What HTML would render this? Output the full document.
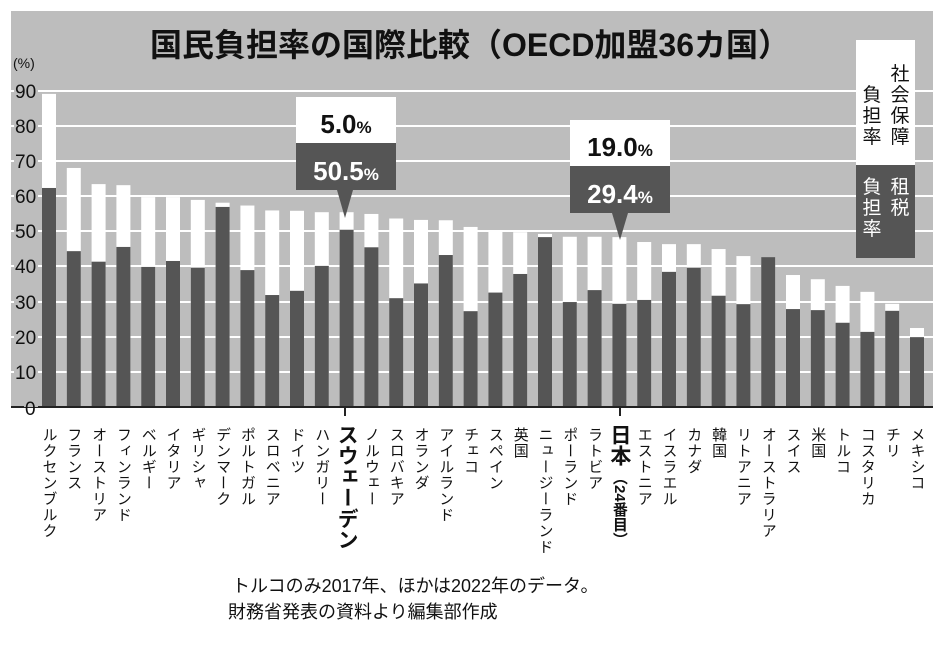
<!DOCTYPE html>
<html><head><meta charset="utf-8"><style>
body{margin:0;background:#fff;}
svg{display:block;font-family:"Liberation Sans","Noto Sans CJK JP",sans-serif;}
</style></head><body>
<svg width="952" height="647" viewBox="0 0 952 647" xmlns="http://www.w3.org/2000/svg">
<rect x="11" y="11" width="922" height="396" fill="#bdbdbd"/>
<g stroke="#fff" stroke-width="2">
<line x1="11" x2="933" y1="91" y2="91"/><line x1="11" x2="933" y1="126" y2="126"/>
<line x1="11" x2="933" y1="161" y2="161"/><line x1="11" x2="933" y1="196" y2="196"/>
<line x1="11" x2="933" y1="231" y2="231"/><line x1="11" x2="933" y1="266" y2="266"/>
<line x1="11" x2="933" y1="302" y2="302"/><line x1="11" x2="933" y1="337" y2="337"/>
<line x1="11" x2="933" y1="372" y2="372"/>
</g>
<g font-size="19" fill="#111">
<rect x="14" y="80" width="24" height="20" fill="#bdbdbd"/><text x="15" y="98">90</text>
<rect x="14" y="115" width="24" height="20" fill="#bdbdbd"/><text x="15" y="133">80</text>
<rect x="14" y="150" width="24" height="20" fill="#bdbdbd"/><text x="15" y="168">70</text>
<rect x="14" y="185" width="24" height="20" fill="#bdbdbd"/><text x="15" y="203">60</text>
<rect x="14" y="220" width="24" height="20" fill="#bdbdbd"/><text x="15" y="238">50</text>
<rect x="14" y="255" width="24" height="20" fill="#bdbdbd"/><text x="15" y="273">40</text>
<rect x="14" y="291" width="24" height="20" fill="#bdbdbd"/><text x="15" y="309">30</text>
<rect x="14" y="326" width="24" height="20" fill="#bdbdbd"/><text x="15" y="344">20</text>
<rect x="14" y="361" width="24" height="20" fill="#bdbdbd"/><text x="15" y="379">10</text>
<text x="13" y="68" font-size="14">(%)</text>
</g>
<text x="470" y="56" font-size="32" font-weight="bold" text-anchor="middle" fill="#111">国民負担率の国際比較（OECD加盟36カ国）</text>
<g id="bars"></g>
<line x1="11" x2="933" y1="407" y2="407" stroke="#222" stroke-width="2"/>
<rect x="24" y="396" width="14" height="11" fill="#bdbdbd"/>
<rect x="24" y="408" width="14" height="9" fill="#fff"/>
<text x="25" y="415" font-size="19" fill="#111">0</text>
<line x1="345" x2="345" y1="407" y2="416" stroke="#222" stroke-width="2"/>
<line x1="620" x2="620" y1="407" y2="416" stroke="#222" stroke-width="2"/>
<g id="labels" font-size="15" fill="#111"></g>
<rect x="296" y="97" width="100" height="46" fill="#fff"/>
<rect x="296" y="143" width="100" height="47" fill="#555"/>
<polygon points="337,190 353,190 345,218" fill="#555"/>
<text x="346" y="133" font-size="26" font-weight="bold" text-anchor="middle" fill="#111">5.0<tspan font-size="17">%</tspan></text>
<text x="346" y="180" font-size="26" font-weight="bold" text-anchor="middle" fill="#fff">50.5<tspan font-size="17">%</tspan></text>
<rect x="570" y="120" width="100" height="46" fill="#fff"/>
<rect x="570" y="166" width="100" height="47" fill="#555"/>
<polygon points="612,213 628,213 620,240" fill="#555"/>
<text x="620" y="156" font-size="26" font-weight="bold" text-anchor="middle" fill="#111">19.0<tspan font-size="17">%</tspan></text>
<text x="620" y="203" font-size="26" font-weight="bold" text-anchor="middle" fill="#fff">29.4<tspan font-size="17">%</tspan></text>
<rect x="856" y="40" width="59" height="125" fill="#fff"/>
<rect x="856" y="165" width="59" height="93" fill="#555"/>
<g font-size="19" fill="#111" text-anchor="middle">
<text x="900" y="80">社</text><text x="900" y="101">会</text><text x="900" y="122">保</text><text x="900" y="143">障</text>
<text x="872" y="101">負</text><text x="872" y="122">担</text><text x="872" y="143">率</text>
</g>
<g font-size="19" fill="#fff" text-anchor="middle">
<text x="900" y="193">租</text><text x="900" y="214">税</text>
<text x="872" y="193">負</text><text x="872" y="214">担</text><text x="872" y="235">率</text>
</g>
<text x="232" y="592" font-size="18" fill="#111">トルコのみ2017年、ほかは2022年のデータ。</text>
<text x="228" y="618" font-size="18" fill="#111">財務省発表の資料より編集部作成</text>
</svg>
<script>
var d=[["ルクセンブルク",89.2,62.4],["フランス",68.1,44.4],["オーストリア",63.5,41.4],["フィンランド",63.2,45.6],["ベルギー",59.8,39.9],["イタリア",59.8,41.6],["ギリシャ",59,39.7],["デンマーク",58.2,57],["ポルトガル",57.4,39],["スロベニア",56,31.9],["ドイツ",55.9,33.1],["ハンガリー",55.5,40.2],["スウェーデン",55.5,50.5],["ノルウェー",55,45.5],["スロバキア",53.7,31],["オランダ",53.3,35.2],["アイルランド",53.2,43.3],["チェコ",51.3,27.3],["スペイン",50,32.6],["英国",49.8,37.9],["ニュージーランド",49.3,48.4],["ポーランド",48.5,29.9],["ラトビア",48.5,33.3],["日本",48.4,29.4],["エストニア",47,30.5],["イスラエル",46.4,38.5],["カナダ",46.4,39.7],["韓国",45,31.7],["リトアニア",43,29.3],["オーストラリア",42.7,42.7],["スイス",37.6,27.9],["米国",36.4,27.6],["トルコ",34.5,24],["コスタリカ",32.8,21.4],["チリ",29.4,27.4],["メキシコ",22.5,19.9]];
var ns="http://www.w3.org/2000/svg",b=document.getElementById("bars"),L=document.getElementById("labels");
function el(t,a,p){var e=document.createElementNS(ns,t);for(var k in a)e.setAttribute(k,a[k]);p.appendChild(e);return e;}
var s=3.51;
d.forEach(function(r,i){var x=42+i*24.8;
el("rect",{x:x,y:407-r[1]*s,width:14,height:r[1]*s,fill:"#fff"},b);
el("rect",{x:x,y:407-r[2]*s,width:14,height:r[2]*s,fill:"#555"},b);
var cx=x+7;
if(i==12){var t=el("text",{x:cx,y:424,"font-size":21,"font-weight":"bold",style:"writing-mode:vertical-rl;text-orientation:upright"},L);t.textContent=r[0];}
else if(i==23){var t=el("text",{x:cx,y:424,"font-size":21,"font-weight":"bold",style:"writing-mode:vertical-rl;text-orientation:upright"},L);t.textContent="日本";
var t2=el("text",{x:cx,y:470,"font-size":15,"font-weight":"bold",style:"writing-mode:vertical-rl"},L);t2.textContent="（24番目）";}
else{var t=el("text",{x:cx,y:427,"letter-spacing":"1",style:"writing-mode:vertical-rl;text-orientation:upright"},L);t.textContent=r[0];}
});
</script>
</body></html>
